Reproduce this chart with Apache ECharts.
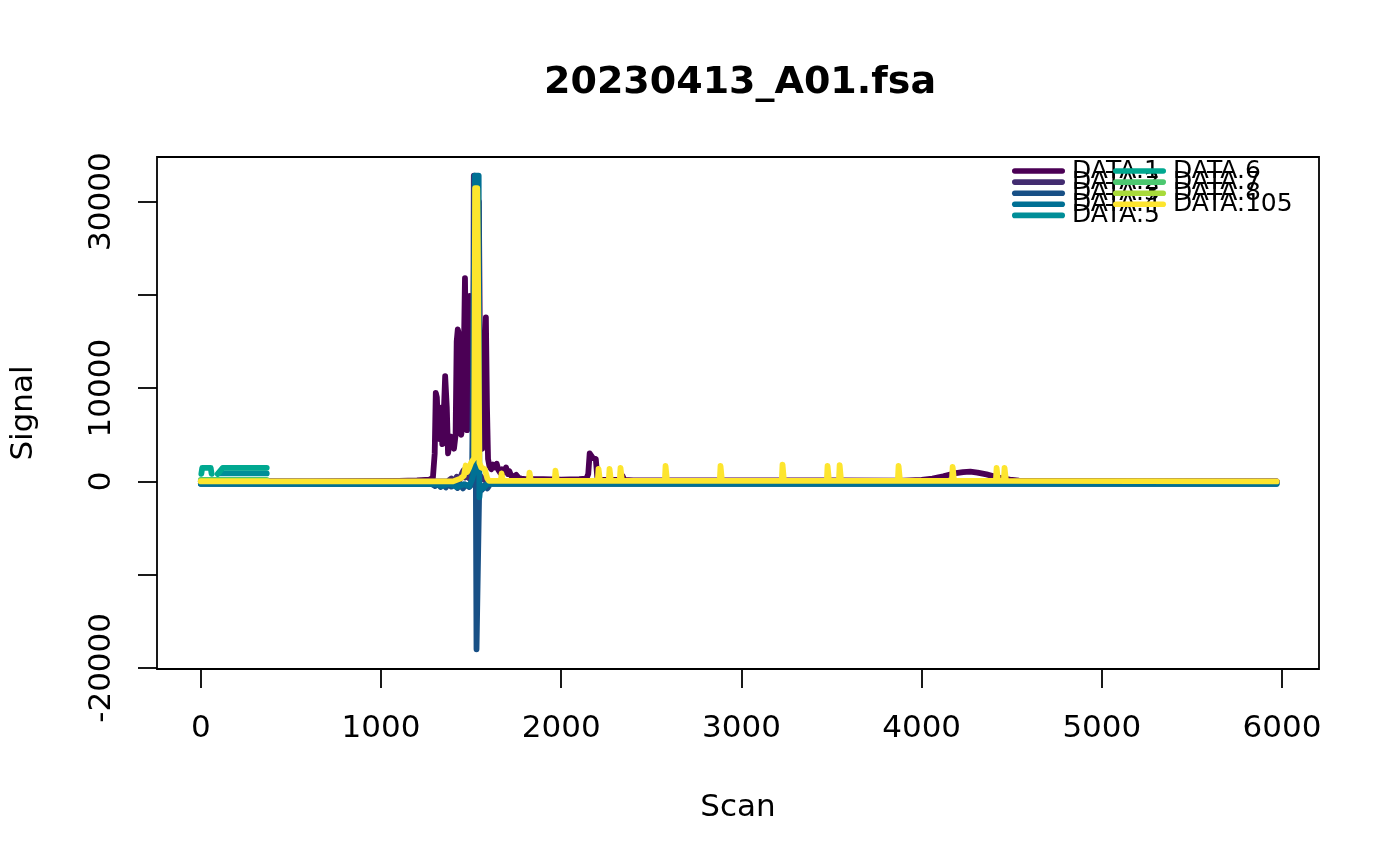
<!DOCTYPE html>
<html>
<head>
<meta charset="utf-8">
<script src="https://cdn.jsdelivr.net/npm/echarts@6/dist/echarts.min.js"></script>
<style>html,body{margin:0;padding:0;background:#fff}#c{width:1400px;height:866px}</style>
</head>
<body>
<div id="c"></div>
<script>
const seriesNames = ['DATA.1','DATA.2','DATA.3','DATA.4','DATA.5','DATA.6','DATA.7','DATA.8','DATA.105'];
const colors = ['#4B0055','#422C70','#185086','#007094','#008E98','#00A890','#4CC870','#A8DA3A','#FDE52E'];
const xTicks = [0,1000,2000,3000,4000,5000,6000];
const yTicks = [-20000,-10000,0,10000,20000,30000];
const yTickLabels = [-20000,0,10000,30000];

// [scan, signal]
const data1 = [[0,0],[600,0],[1100,50],[1200,100],[1270,200],[1288,400],[1298,3000],[1304,9500],[1310,9000],[1316,6000],[1322,7500],[1328,4500],[1334,7900],[1340,4000],[1348,7000],[1356,11300],[1365,8000],[1372,3000],[1380,4000],[1388,4800],[1396,4500],[1405,3500],[1414,5000],[1420,15000],[1426,16300],[1432,15800],[1438,9000],[1445,5000],[1452,6000],[1460,14000],[1466,21800],[1472,12000],[1478,5500],[1486,14000],[1493,19900],[1500,9000],[1508,6600],[1516,8500],[1528,14000],[1543,30000],[1552,6000],[1562,3500],[1572,9000],[1582,17600],[1588,8000],[1594,2400],[1602,1600],[1612,1300],[1622,1800],[1632,1500],[1642,1900],[1652,1200],[1662,900],[1672,1300],[1684,1000],[1694,1500],[1704,800],[1712,1100],[1722,600],[1735,500],[1750,700],[1765,350],[1780,300],[1800,250],[1900,250],[2000,200],[2100,250],[2140,300],[2150,800],[2158,3000],[2168,3000],[2176,2500],[2184,2600],[2192,2400],[2200,500],[2215,200],[2300,150],[2330,150],[2340,600],[2350,150],[2400,100],[2600,100],[3000,100],[3500,100],[3900,80],[4000,150],[4060,300],[4120,550],[4180,850],[4230,1000],[4270,1050],[4310,950],[4360,750],[4410,500],[4450,300],[4490,180],[4540,80],[4600,60],[5000,50],[5500,30],[5970,0]];
const data2 = [[0,0],[1370,0],[1390,300],[1405,-100],[1420,500],[1435,100],[1450,900],[1458,1200],[1466,400],[1478,800],[1490,300],[1502,1000],[1510,1400],[1515,32800],[1520,32800],[1526,1500],[1550,600],[1570,200],[1600,0],[5970,0]];
const data3 = [[0,-250],[1280,-250],[1300,-500],[1315,-150],[1330,-600],[1345,-200],[1360,-650],[1372,-300],[1390,-550],[1410,-200],[1425,-700],[1440,-300],[1455,-750],[1470,-350],[1490,-600],[1505,-300],[1516,-500],[1520,32800],[1526,32800],[1530,-18000],[1541,-18000],[1545,-700],[1560,-900],[1575,-400],[1590,-750],[1605,-300],[1620,-250],[5970,-250]];
const data4 = [[0,-250],[1300,-300],[1340,-500],[1380,-250],[1420,-600],[1460,-300],[1490,-500],[1505,200],[1515,900],[1522,32800],[1542,32800],[1546,-1700],[1552,-400],[1570,-700],[1590,-250],[5970,-250]];
const data5 = [[100,850],[200,850],[366,850]];
const data6 = [[3,800],[8,1450],[55,1450],[60,800],[76,null],[94,800],[122,1450],[250,1450],[366,1450]];
const data7 = [[0,150],[366,150]];
const data8 = [[0,50],[366,50]];
const data105 = [[0,0],[1400,0],[1440,300],[1460,600],[1470,1700],[1478,1000],[1490,1500],[1500,2000],[1510,1800],[1517,2500],[1522,31450],[1534,31450],[1537,25900],[1542,25900],[1546,2000],[1556,1500],[1566,1700],[1576,1300],[1590,300],[1600,50],
[1665,50],[1669,850],[1673,850],[1677,50],
[1820,50],[1824,950],[1828,950],[1832,50],
[1964,50],[1968,1150],[1972,1150],[1976,50],
[2203,50],[2207,1350],[2211,1350],[2215,50],
[2264,50],[2268,1350],[2272,1350],[2276,50],
[2325,50],[2329,1450],[2333,1450],[2337,50],
[2575,50],[2579,1650],[2583,1650],[2587,50],
[2880,50],[2884,1650],[2888,1650],[2892,50],
[3224,50],[3228,1800],[3232,1800],[3236,50],
[3474,50],[3478,1650],[3482,1650],[3486,50],
[3541,50],[3545,1750],[3549,1750],[3553,50],
[3868,50],[3872,1650],[3876,1650],[3880,50],
[4168,50],[4172,1550],[4176,1550],[4180,50],
[4412,50],[4416,1450],[4420,1450],[4424,50],
[4456,50],[4460,1450],[4464,1450],[4468,50],
[5970,0]];
const allData = [data1,data2,data3,data4,data5,data6,data7,data8,data105];

const FONT = 'DejaVu Sans';
const chart = echarts.init(document.getElementById('c'), null, {renderer:'canvas'});
const legendIcon = 'path://M2.8,0 L50.2,0 A2.8,2.8 0 0 1 50.2,5.6 L2.8,5.6 A2.8,2.8 0 0 1 2.8,0 Z';
const legendCommon = {
  orient:'vertical', padding:0, itemGap:-13.9, itemWidth:53, itemHeight:10.3,
  icon: legendIcon, selectedMode:false,
  textStyle:{fontFamily:FONT, fontSize:25, color:'#000', padding:[0,0,0,2]}
};
chart.setOption({
  animation:false,
  color: colors,
  title:{text:'20230413_A01.fsa', left:539, top:59,
    textStyle:{fontFamily:FONT, fontSize:38, fontWeight:'bold', color:'#000'}},
  legend:[
    Object.assign({left:1012, top:158.5, data:seriesNames.slice(0,5)}, legendCommon),
    Object.assign({left:1113, top:158.5, data:seriesNames.slice(5)}, legendCommon)
  ],
  grid:{left:157, top:157, width:1162, height:512, show:true, borderColor:'#000', borderWidth:1.8, backgroundColor:'transparent'},
  xAxis:{type:'value', min:-243, max:6205,
    name:'Scan', nameLocation:'middle', nameGap:123,
    nameTextStyle:{fontFamily:FONT, fontSize:31, color:'#000'},
    axisLine:{show:false, onZero:false}, splitLine:{show:false},
    axisTick:{show:true, length:19, lineStyle:{color:'#000', width:1.8}, customValues:xTicks},
    axisLabel:{margin:44, fontFamily:FONT, fontSize:31, color:'#000', customValues:xTicks,
      formatter:v=>String(v)}
  },
  yAxis:{type:'value', min:-20120, max:34790,
    name:'Signal', nameLocation:'middle', nameGap:118,
    nameTextStyle:{fontFamily:FONT, fontSize:31, color:'#000'},
    axisLine:{show:false, onZero:false}, splitLine:{show:false},
    axisTick:{show:true, length:19, lineStyle:{color:'#000', width:1.8}, customValues:yTicks},
    axisLabel:{margin:40, rotate:90, fontFamily:FONT, fontSize:31, color:'#000', customValues:yTickLabels,
      formatter:v=>String(v)}
  },
  series: seriesNames.map((n,i)=>({
    name:n, type:'line', data:allData[i], showSymbol:false, symbol:'none',
    connectNulls:false, silent:true,
    lineStyle:{width:5.8, color:colors[i], cap:'round', join:'round'},
    itemStyle:{color:colors[i]}
  }))
});
</script>
</body>
</html>
